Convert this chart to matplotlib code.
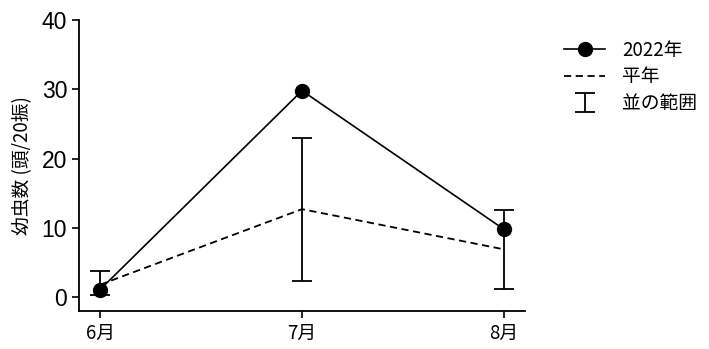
import numpy as np
import matplotlib
matplotlib.use("Agg")
import matplotlib.pyplot as plt

plt.rcParams['font.family'] = ['Liberation Sans', 'Noto Sans CJK JP']

# データ
months = ["6月", "7月", "8月"]
y2022 = [1.1, 29.8, 9.8]
normal = [1.8, 12.7, 6.9]
range_low = [0.3, 2.4, 1.2]
range_high = [3.8, 23.0, 12.6]

x = np.arange(len(months))
normal_arr = np.array(normal)
err_low = normal_arr - np.array(range_low)
err_high = np.array(range_high) - normal_arr

fig = plt.figure(figsize=(7.09, 3.49), dpi=100)
ax = fig.add_axes([0.1114, 0.1089, 0.6291, 0.8338])

# 並の範囲 (エラーバー)
ax.errorbar(x, normal, yerr=[err_low, err_high], fmt='none',
            ecolor='black', elinewidth=1.3, capsize=7.5, capthick=1.3,
            label='並の範囲', zorder=2)
# 平年
ax.plot(x, normal, linestyle=(0, (4, 2.5)), color='black', linewidth=1.3,
        label='平年', zorder=3)
# 2022年
ax.plot(x, y2022, marker='o', color='black', linewidth=1.2, markersize=10,
        label='2022年', zorder=4)

ax.set_xlim(-0.105, 2.105)
ax.set_ylim(-2, 40)
ax.set_xticks(x)
ax.set_xticklabels(months, fontsize=13.5, family=['Noto Sans CJK JP'])
ax.set_yticks([0, 10, 20, 30, 40])
ax.tick_params(axis='y', labelsize=16.5, length=5, width=1.2)
ax.tick_params(axis='x', length=5, width=1.2)
ax.set_ylabel("幼虫数 (頭/20振)", fontsize=13.5, family=['Noto Sans CJK JP'],
              labelpad=6)

for side in ['top', 'right']:
    ax.spines[side].set_visible(False)
for side in ['left', 'bottom']:
    ax.spines[side].set_linewidth(1.3)

handles, labels = ax.get_legend_handles_labels()
order = [labels.index('2022年'), labels.index('平年'), labels.index('並の範囲')]
fig.legend([handles[i] for i in order], [labels[i] for i in order],
           loc='upper left', bbox_to_anchor=(0.772, 0.935), frameon=False,
           prop={'family': ['Noto Sans CJK JP'], 'size': 13.5},
           handlelength=2.2, labelspacing=0.3, handletextpad=0.9)

plt.savefig("out.png", dpi=100)
plt.close()
